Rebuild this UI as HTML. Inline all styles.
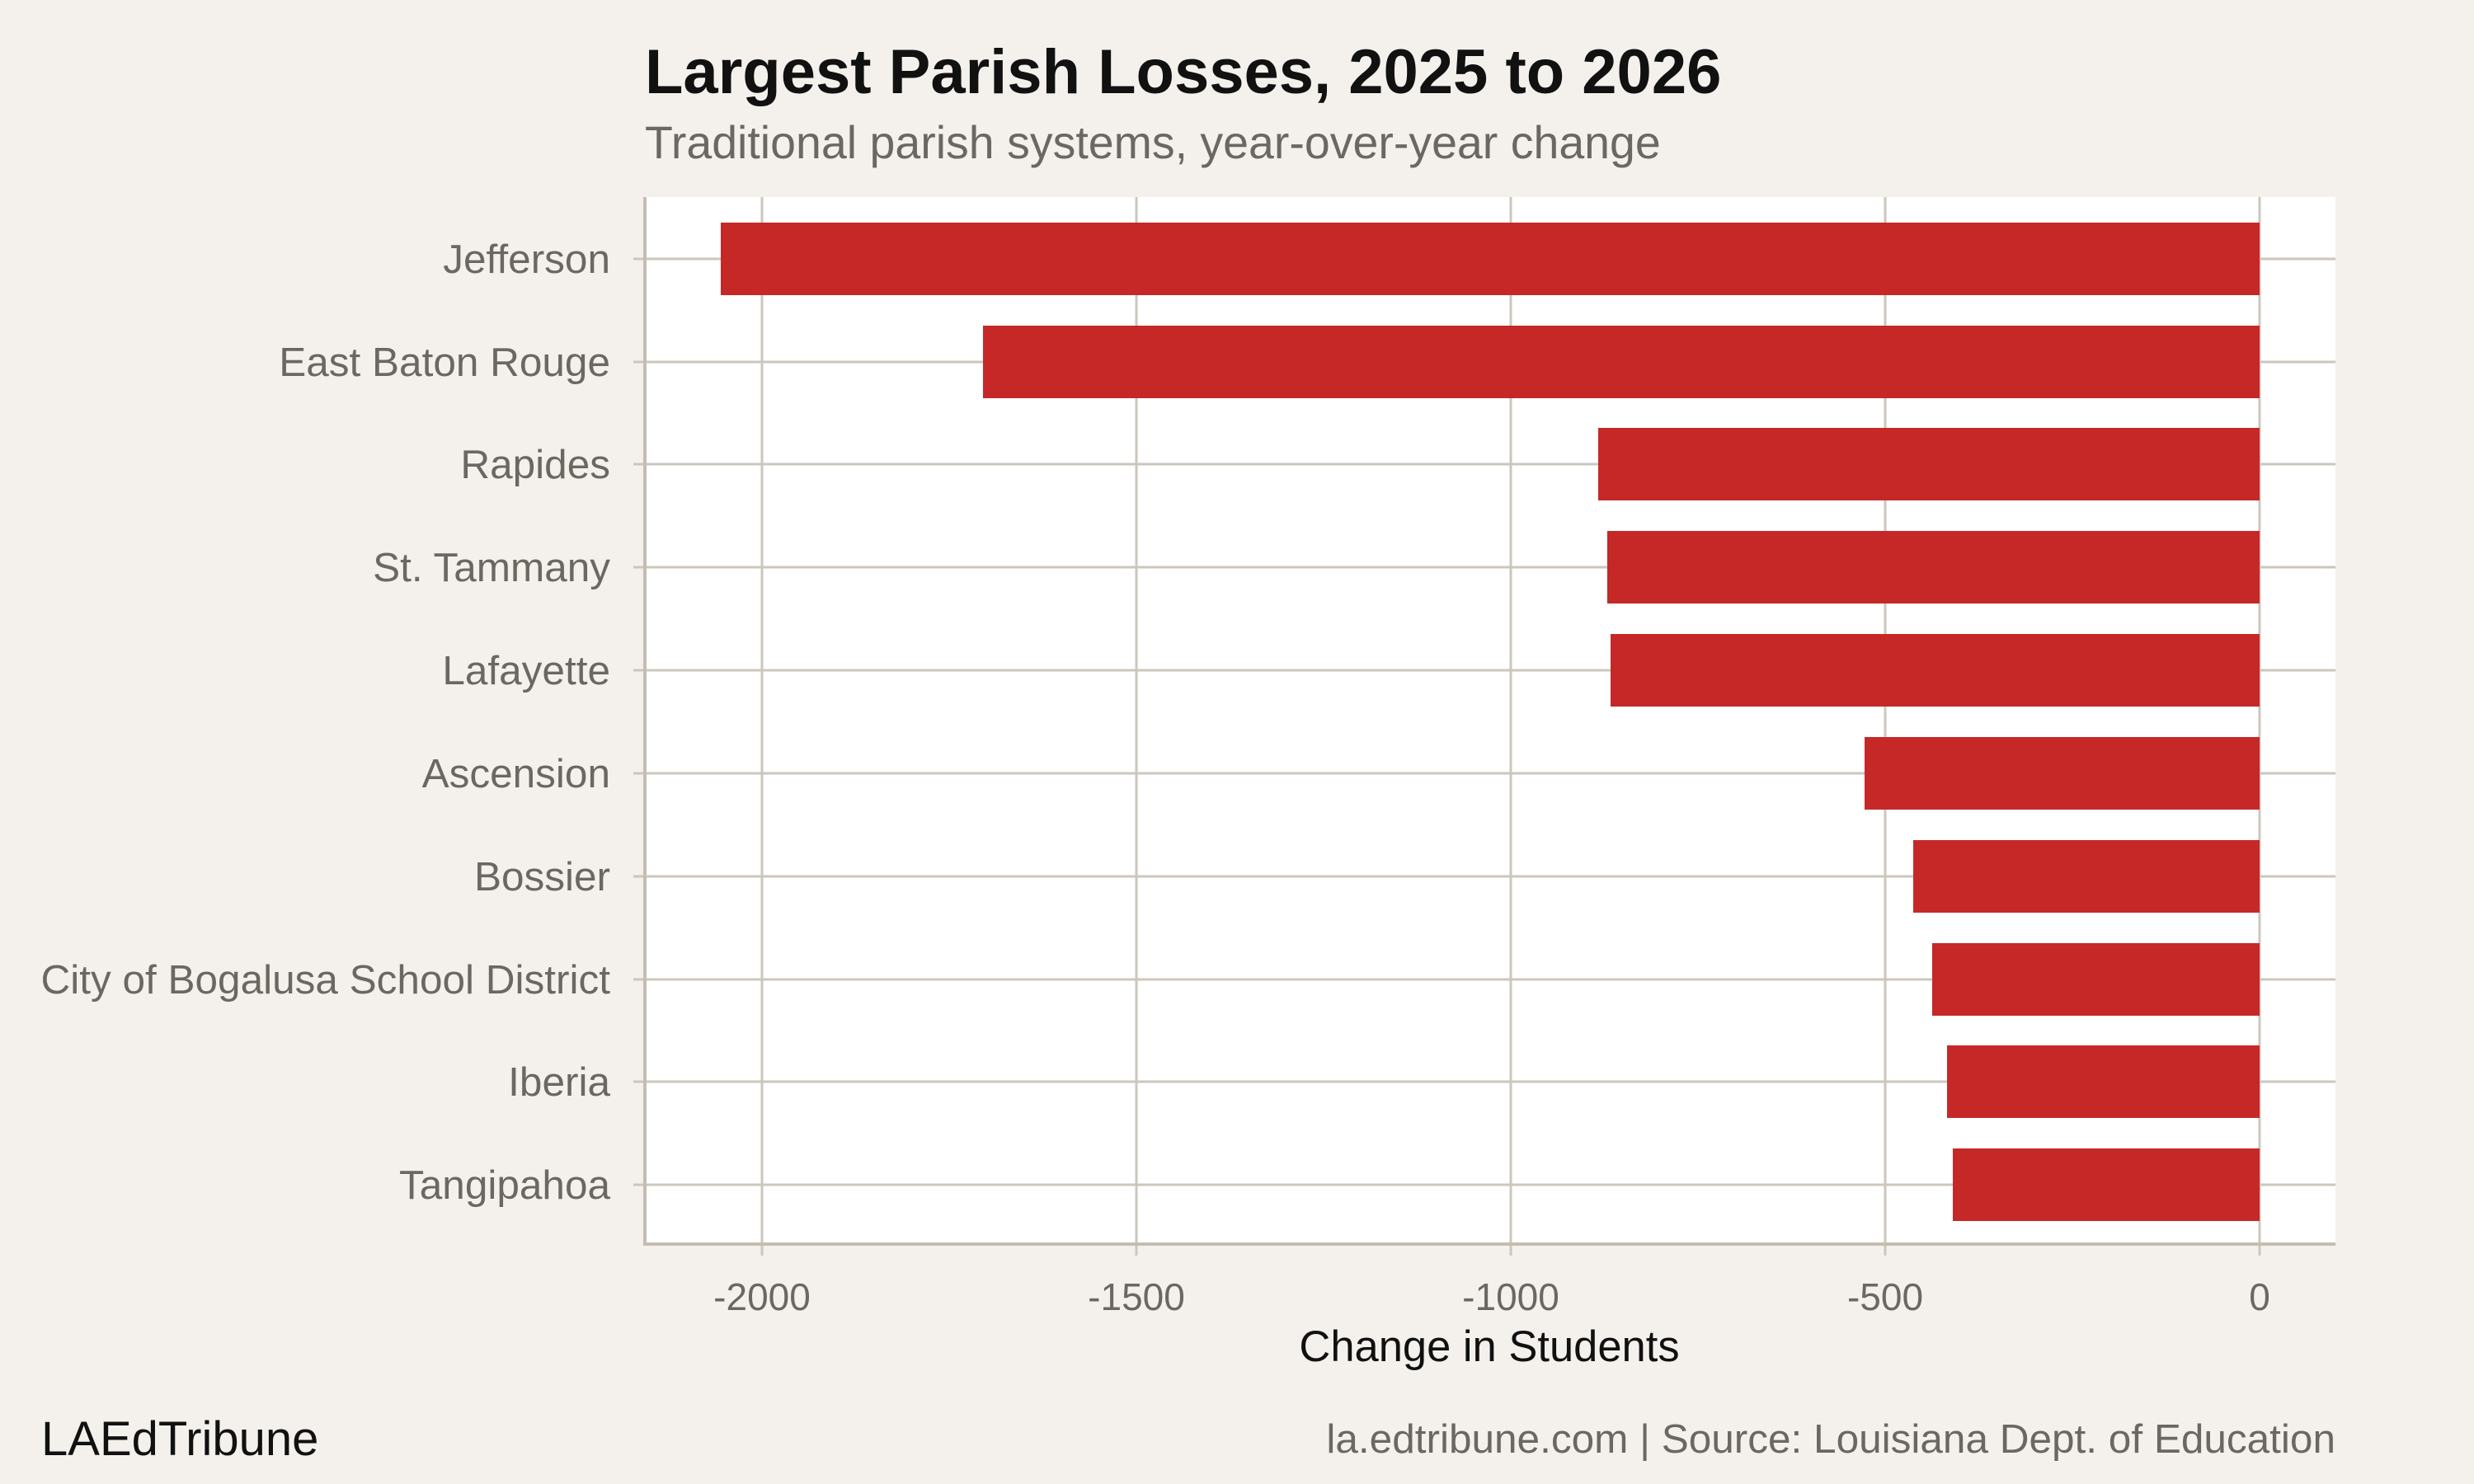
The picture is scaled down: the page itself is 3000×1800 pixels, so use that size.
<!DOCTYPE html>
<html><head><meta charset="utf-8"><style>
html,body{margin:0;padding:0;background:#f4f1ec;}
svg{display:block;font-family:"Liberation Sans",Arial,sans-serif;}
</style></head><body>
<svg width="3000" height="1800" viewBox="0 0 3000 1800" xmlns="http://www.w3.org/2000/svg">
<rect width="3000" height="1800" fill="#f4f1ec"/>
<text x="782" y="113" font-size="76" font-weight="bold" fill="#111">Largest Parish Losses, 2025 to 2026</text>
<text x="782" y="192" font-size="55.5" fill="#6b6862">Traditional parish systems, year-over-year change</text>
<rect x="782" y="239" width="2050" height="1270" fill="#fff"/>
<g stroke="#ccc6bc" stroke-width="3">
<line x1="924" y1="239" x2="924" y2="1509"/>
<line x1="1378" y1="239" x2="1378" y2="1509"/>
<line x1="1832" y1="239" x2="1832" y2="1509"/>
<line x1="2286" y1="239" x2="2286" y2="1509"/>
<line x1="2740" y1="239" x2="2740" y2="1509"/>
<line x1="768" y1="314" x2="2832" y2="314"/>
<line x1="768" y1="439" x2="2832" y2="439"/>
<line x1="768" y1="563" x2="2832" y2="563"/>
<line x1="768" y1="688" x2="2832" y2="688"/>
<line x1="768" y1="813" x2="2832" y2="813"/>
<line x1="768" y1="938" x2="2832" y2="938"/>
<line x1="768" y1="1063" x2="2832" y2="1063"/>
<line x1="768" y1="1188" x2="2832" y2="1188"/>
<line x1="768" y1="1312" x2="2832" y2="1312"/>
<line x1="768" y1="1437" x2="2832" y2="1437"/>
<line x1="924" y1="1509" x2="924" y2="1523"/>
<line x1="1378" y1="1509" x2="1378" y2="1523"/>
<line x1="1832" y1="1509" x2="1832" y2="1523"/>
<line x1="2286" y1="1509" x2="2286" y2="1523"/>
<line x1="2740" y1="1509" x2="2740" y2="1523"/>
</g>
<line x1="782" y1="239" x2="782" y2="1511" stroke="#c4bdb2" stroke-width="4"/>
<line x1="780" y1="1509" x2="2832" y2="1509" stroke="#c4bdb2" stroke-width="4"/>
<g fill="#c62828">
<rect x="874" y="270" width="1866" height="88"/>
<rect x="1192" y="395" width="1548" height="88"/>
<rect x="1938" y="519" width="802" height="88"/>
<rect x="1949" y="644" width="791" height="88"/>
<rect x="1953" y="769" width="787" height="88"/>
<rect x="2261" y="894" width="479" height="88"/>
<rect x="2320" y="1019" width="420" height="88"/>
<rect x="2343" y="1144" width="397" height="88"/>
<rect x="2361" y="1268" width="379" height="88"/>
<rect x="2368" y="1393" width="372" height="88"/>
</g>
<g font-size="49.5" fill="#6b6862" text-anchor="end">
<text x="740" y="331">Jefferson</text>
<text x="740" y="456">East Baton Rouge</text>
<text x="740" y="580">Rapides</text>
<text x="740" y="705">St. Tammany</text>
<text x="740" y="830">Lafayette</text>
<text x="740" y="955">Ascension</text>
<text x="740" y="1080">Bossier</text>
<text x="740" y="1205">City of Bogalusa School District</text>
<text x="740" y="1329">Iberia</text>
<text x="740" y="1454">Tangipahoa</text>
</g>
<g font-size="46" fill="#6b6862" text-anchor="middle">
<text x="924" y="1589">-2000</text>
<text x="1378" y="1589">-1500</text>
<text x="1832" y="1589">-1000</text>
<text x="2286" y="1589">-500</text>
<text x="2740" y="1589">0</text>
</g>
<text x="1806" y="1651" font-size="52.5" fill="#111" text-anchor="middle">Change in Students</text>
<text x="50" y="1765" font-size="58" fill="#111">LAEdTribune</text>
<text x="2832" y="1762" font-size="49.5" fill="#6b6862" text-anchor="end">la.edtribune.com | Source: Louisiana Dept. of Education</text>
</svg>
</body></html>
